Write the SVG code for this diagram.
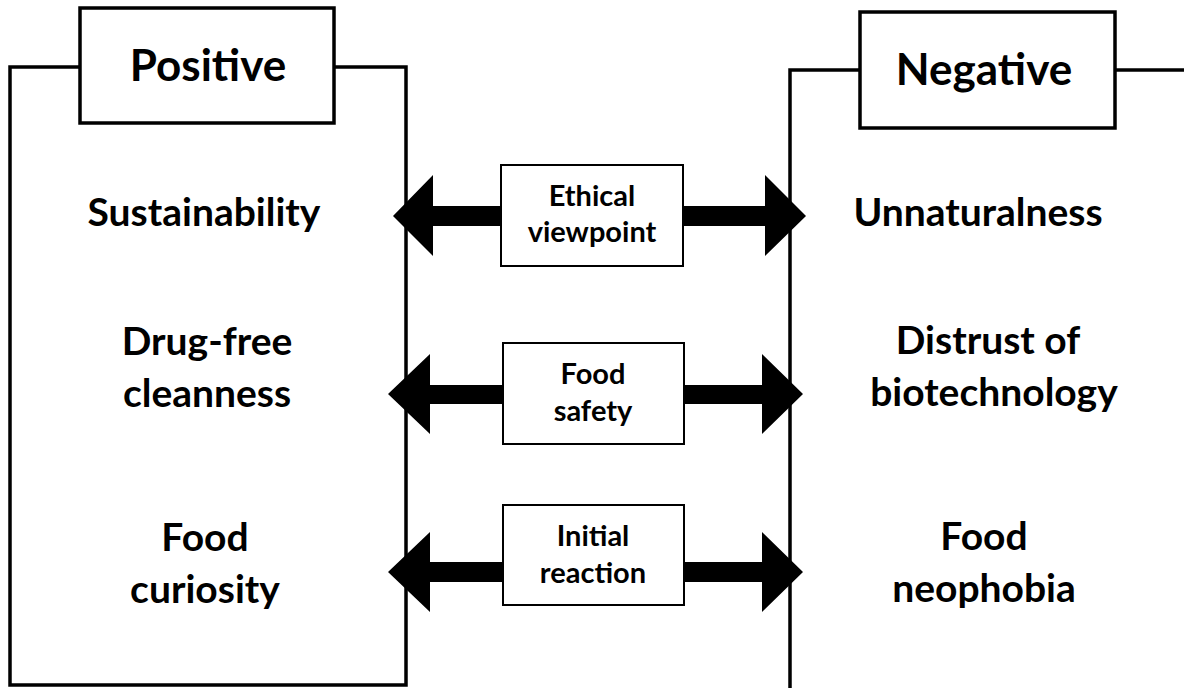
<svg xmlns="http://www.w3.org/2000/svg" width="1184" height="688" viewBox="0 0 1184 688">
<style>
.ln{fill:none;stroke:#000;stroke-width:3.5}
.bx{fill:#fff;stroke:#000;stroke-width:3.5}
.sb{fill:#fff;stroke:#000;stroke-width:2}
.ar{fill:#000}
text{font-family:Lato,"Open Sans","Liberation Sans",sans-serif;font-weight:bold;fill:#000;text-anchor:middle}
.h{font-size:44px}
.t{font-size:39px}
.s{font-size:29px}
</style>
<rect width="1184" height="688" fill="#fff"/>
<g id="positive-panel">
<polyline class="ln" points="80,67 10,67 10,685 406,685 406,67 334,67"/>
</g>
<g id="negative-panel">
<polyline class="ln" points="860,70 790,70 790,690"/>
<line class="ln" x1="1115" y1="70" x2="1184" y2="70"/>
</g>
<g id="connectors">
<polygon class="ar" points="393,216 433,175 433,206 765,206 765,175 806,216 765,256 765,226 433,226 433,256"/>
<polygon class="ar" points="388,394 430,354 430,385 762,385 762,354 803,394 762,434 762,404 430,404 430,434"/>
<polygon class="ar" points="388,572 430,532 430,562 762,562 762,532 803,572 762,612 762,582 430,582 430,612"/>
</g>
<g id="positive-title">
<rect class="bx" x="80" y="8" width="254" height="115"/>
<text class="h" x="208" y="81">Positive</text>
</g>
<g id="negative-title">
<rect class="bx" x="860" y="12" width="255" height="116"/>
<text class="h" x="984" y="85">Negative</text>
</g>
<g id="sustainability"><text class="t" x="204" y="226">Sustainability</text></g>
<g id="drug-free"><text class="t" x="207" y="355">Drug-free</text><text class="t" x="207" y="407">cleanness</text></g>
<g id="food-curiosity"><text class="t" x="205" y="551">Food</text><text class="t" x="205" y="603">curiosity</text></g>
<g id="unnaturalness"><text class="t" x="978" y="226">Unnaturalness</text></g>
<g id="distrust"><text class="t" x="988" y="354">Distrust  of</text><text class="t" x="994" y="406">biotechnology</text></g>
<g id="food-neophobia"><text class="t" x="984" y="550">Food</text><text class="t" x="984" y="602">neophobia</text></g>
<g id="ethical-viewpoint">
<rect class="sb" x="501" y="165" width="182" height="101"/>
<text class="s" x="592" y="206">Ethical</text><text class="s" x="592" y="242">viewpoint</text>
</g>
<g id="food-safety">
<rect class="sb" x="503" y="343" width="181" height="101"/>
<text class="s" x="593" y="384">Food</text><text class="s" x="593" y="421">safety</text>
</g>
<g id="initial-reaction">
<rect class="sb" x="503" y="505" width="181" height="100"/>
<text class="s" x="593" y="546">Initial</text><text class="s" x="593" y="583">reaction</text>
</g>
</svg>
